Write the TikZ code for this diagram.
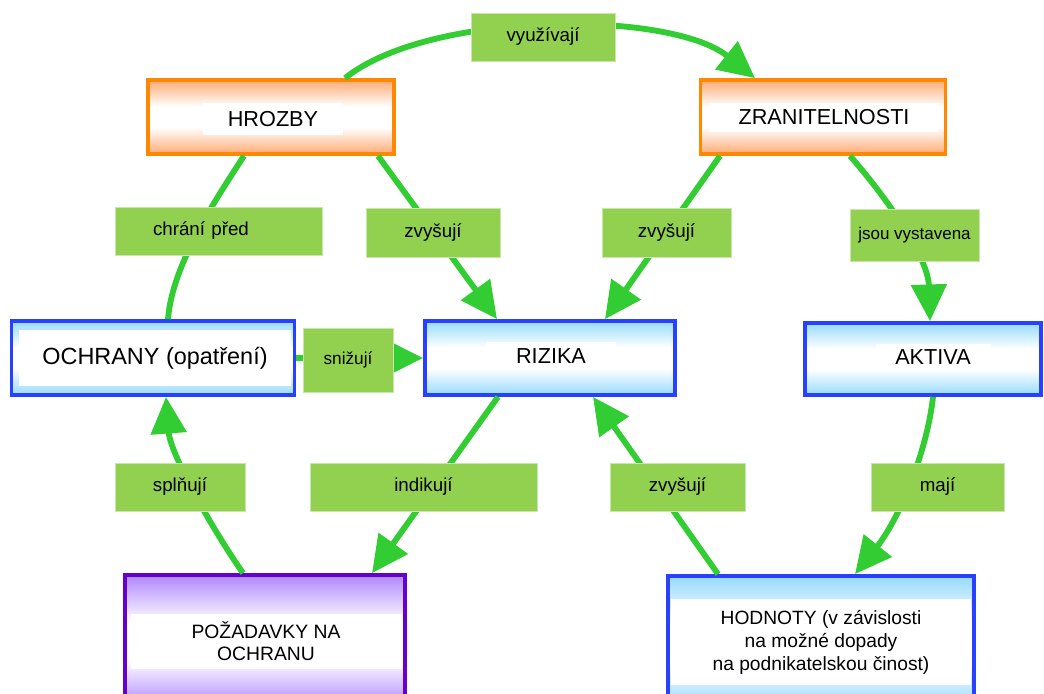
\documentclass[tikz,border=0pt]{standalone}
\usepackage{fontspec}
\setmainfont{Liberation Sans}
\usetikzlibrary{arrows.meta,calc}
\definecolor{tangerine}{RGB}{255,136,0}
\definecolor{peach}{RGB}{255,170,115}
\definecolor{royal}{RGB}{40,64,255}
\definecolor{sky}{RGB}{150,218,255}
\definecolor{plum}{RGB}{102,0,204}
\definecolor{lilac}{RGB}{175,135,255}
\definecolor{leaf}{RGB}{146,208,80}
\definecolor{grass}{RGB}{50,205,50}
\colorlet{boxtint}{white}
\pgfdeclareverticalshading[boxtint]{boxshade}{100bp}{color(0bp)=(boxtint); color(25bp)=(boxtint);
  color(43bp)=(white); color(57bp)=(white); color(75bp)=(boxtint); color(100bp)=(boxtint)}
\tikzset{
  >={Triangle[length=1.1cm,width=1.05cm]},
  tint/.code={\colorlet{boxtint}{#1}},
  box/.style 2 args={draw=#1,line width=3.2pt,tint=#2,shade,shading=boxshade,inner sep=0pt},
  caption/.style={fill=white,inner sep=0pt,align=center,font=\fontsize{18.5}{22}\selectfont},
  rel/.style={fill=leaf,draw=leaf!50!white,line width=0.8pt,inner sep=0pt,
    minimum height=1.44cm,font=\fontsize{16}{19}\selectfont},
  flow/.style={draw=grass,line width=5pt},
}
\begin{document}
\begin{tikzpicture}[x=0.3mm,y=-0.3mm]
  \useasboundingbox (0,0) rectangle (1044,693);
  \clip (0,0) rectangle (1044,693);
  % concepts
  \node[box={tangerine}{peach},minimum width=7.38cm,minimum height=2.22cm] (hrozby) at (271,117) {};
  \node[caption,minimum width=4.2cm,minimum height=0.96cm] (hrozby-t) at (273,119) {HROZBY};
  \node[box={tangerine}{peach},minimum width=7.35cm,minimum height=2.22cm] (zranitelnosti) at (823,117) {};
  \node[caption,minimum width=6.84cm,minimum height=0.87cm] (zranitelnosti-t) at (824,117) {ZRANITELNOSTI};
  \node[box={royal}{sky},minimum width=8.49cm,minimum height=2.22cm] (ochrany) at (153,358) {};
  \node[caption,minimum width=8.16cm,minimum height=1.68cm,font=\fontsize{20}{24}\selectfont] (ochrany-t) at (155,358) {OCHRANY (opatření)};
  \node[box={royal}{sky},minimum width=7.5cm,minimum height=2.22cm] (rizika) at (550,358) {};
  \node[caption,minimum width=3.9cm,minimum height=0.84cm] (rizika-t) at (551,356) {RIZIKA};
  \node[box={royal}{sky},minimum width=7.08cm,minimum height=2.16cm] (aktiva) at (923,359) {};
  \node[caption,minimum width=3.45cm,minimum height=0.78cm] (aktiva-t) at (933,357) {AKTIVA};
  \node[box={plum}{lilac},minimum width=8.4cm,minimum height=3.96cm] (pozadavky) at (265,641) {};
  \node[caption,minimum width=8.13cm,minimum height=1.65cm,font=\fontsize{16.5}{19.2}\selectfont] (pozadavky-t) at (266,641) {POŽADAVKY NA\\OCHRANU};
  \node[box={royal}{sky},minimum width=9.18cm,minimum height=3.96cm] (hodnoty) at (821,642) {};
  \node[caption,minimum width=9cm,minimum height=2.58cm,font=\fontsize{16.4}{19.6}\selectfont] (hodnoty-t) at (821,642) {HODNOTY (v závislosti\\na možné dopady\\na podnikatelskou činost)};
  % connectors
  \draw[flow,->] ($(hrozby.north)+(74,0)$) .. controls +(85,-68) and +(-85,-68) .. ($(zranitelnosti.north)+(-68,0)$);
  \draw[flow] ($(hrozby.south)+(-27,0)$) .. controls +(-26,40) and +(4,-55) .. ($(ochrany.north)+(15,0)$);
  \draw[flow,->] ($(hrozby.south)+(107,0)$) -- ($(rizika.north)+(-53,0)$);
  \draw[flow,->] ($(zranitelnosti.south)+(-103,0)$) -- ($(rizika.north)+(55,0)$);
  \draw[flow,->] ($(zranitelnosti.south)+(27,0)$) .. controls +(35,40) and +(-2,-65) .. ($(aktiva.north)+(7,0)$);
  \draw[flow,->] (ochrany) -- (rizika);
  \draw[flow,->] ($(rizika.south)+(-52,0)$) -- ($(pozadavky.north)+(107,0)$);
  \draw[flow,->] ($(pozadavky.north)+(-22,0)$) .. controls +(-38,-55) and +(4,54) .. ($(ochrany.south)+(13,0)$);
  \draw[flow,->] ($(hodnoty.north)+(-103,0)$) -- ($(rizika.south)+(43,0)$);
  \draw[flow,->] ($(aktiva.south)+(10,0)$) .. controls +(-6,55) and +(44,-55) .. ($(hodnoty.north)+(34,0)$);
  % relations
  \node[rel,minimum width=4.32cm] (vyuzivaji) at (543,37) {využívají};
  \node[rel,minimum width=6.21cm,text width=3.93cm,align=left,inner xsep=1.14cm] (chrani) at (218.5,231) {chrání před};
  \node[rel,minimum width=4.02cm,minimum height=1.47cm] (zvysuji-a) at (433,232.5) {zvyšují};
  \node[rel,minimum width=3.87cm,minimum height=1.47cm] (zvysuji-b) at (666.5,232.5) {zvyšují};
  \node[rel,minimum width=3.87cm,minimum height=1.56cm,font=\fontsize{14.5}{17}\selectfont] (jsou) at (914.5,235) {jsou vystavena};
  \node[rel,minimum width=2.7cm,minimum height=1.92cm,font=\fontsize{14.7}{17}\selectfont] (snizuji) at (348,360) {snižují};
  \node[rel,minimum width=3.9cm] (splnuji) at (180,487) {splňují};
  \node[rel,minimum width=6.81cm] (indikuji) at (423.5,487) {indikují};
  \node[rel,minimum width=4.05cm] (zvysuji-c) at (677.5,487) {zvyšují};
  \node[rel,minimum width=3.99cm] (maji) at (937.5,487) {mají};
\end{tikzpicture}
\end{document}
